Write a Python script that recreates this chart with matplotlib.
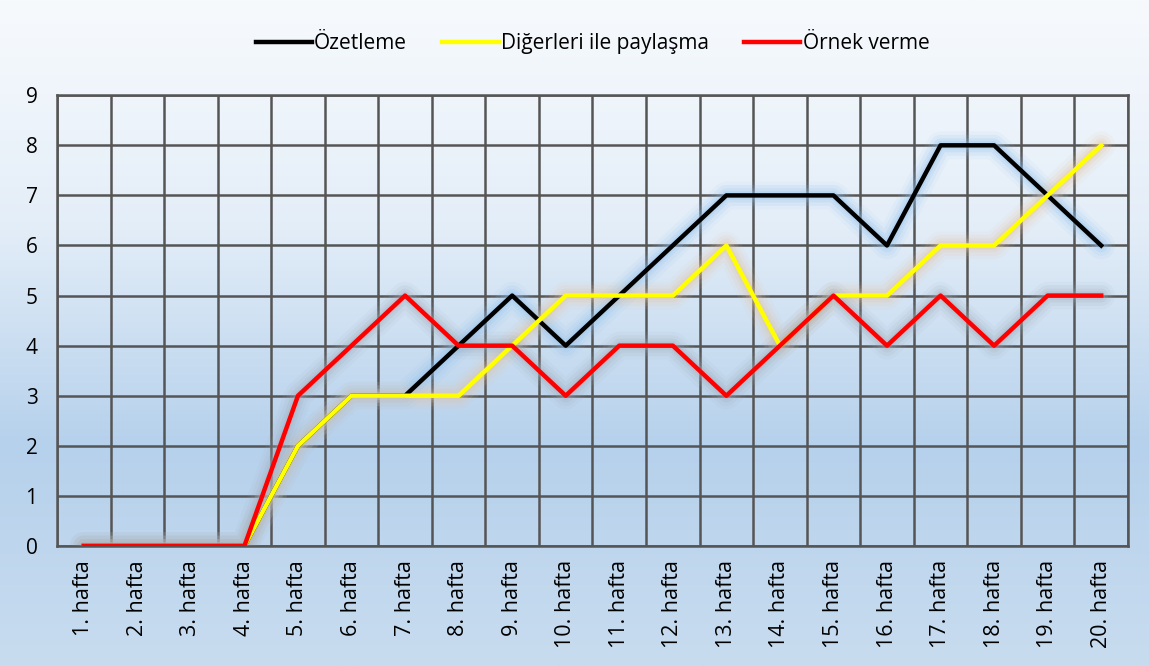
import numpy as np
import matplotlib.pyplot as plt
from matplotlib.colors import LinearSegmentedColormap

plt.rcParams['font.family'] = ['Open Sans', 'DejaVu Sans']

weeks = [f"{i}. hafta" for i in range(1, 21)]
ozetleme = [0, 0, 0, 0, 2, 3, 3, 4, 5, 4, 5, 6, 7, 7, 7, 6, 8, 8, 7, 6]
paylasma = [0, 0, 0, 0, 2, 3, 3, 3, 4, 5, 5, 5, 6, 4, 5, 5, 6, 6, 7, 8]
ornek = [0, 0, 0, 0, 3, 4, 5, 4, 4, 3, 4, 4, 3, 4, 5, 4, 5, 4, 5, 5]

series = [
    ("Özetleme", ozetleme, "#000000", "#8fc0ee"),
    ("Diğerleri ile paylaşma", paylasma, "#ffff00", "#e6c29e"),
    ("Örnek verme", ornek, "#ff0000", "#9fabb8"),
]

fig = plt.figure(figsize=(11.49, 6.66), dpi=100)

# background gradient
bg = fig.add_axes([0, 0, 1, 1], zorder=-10)
cmap = LinearSegmentedColormap.from_list("bg", ["#f7fafd", "#e4eef8", "#b6d1ec", "#c8dcef"])
grad = np.linspace(0, 1, 256).reshape(-1, 1)
bg.imshow(grad, aspect="auto", cmap=cmap, extent=[0, 1, 0, 1])
bg.set_axis_off()

ax = fig.add_axes([0.0496, 0.1802, 0.9321, 0.6768])
ax.set_facecolor("none")
x = np.arange(len(weeks))

for name, vals, color, glow in series:
    for w, a in [(20, 0.08), (15, 0.12), (10, 0.18), (6, 0.25)]:
        ax.plot(x, vals, color=glow, lw=w, alpha=a, solid_capstyle="round",
                solid_joinstyle="round", zorder=2)
for name, vals, color, glow in series:
    ax.plot(x, vals, color=color, lw=3.2, label=name, zorder=3)

ax.set_xlim(-0.5, len(weeks) - 0.5)
ax.set_ylim(0, 9)
ax.set_yticks(range(10))
ax.set_xticks(x)
ax.set_xticklabels(weeks, rotation=90, fontsize=15.5)
ax.set_xticks(np.arange(-0.5, len(weeks), 1), minor=True)
ax.tick_params(axis="y", labelsize=15, length=0, pad=14)
ax.tick_params(axis="x", which="both", length=0, pad=10)
ax.grid(axis="y", which="major", color="#555555", lw=1.8)
ax.grid(axis="x", which="minor", color="#555555", lw=1.8)
for s in ax.spines.values():
    s.set_color("#555555")
    s.set_linewidth(1.8)

ax.legend(loc="center", bbox_to_anchor=(0.5, 1.115), ncol=3, frameon=False,
          fontsize=15, handlelength=2.7, handletextpad=0.1, columnspacing=1.7)

fig.savefig("out.png", dpi=100)
